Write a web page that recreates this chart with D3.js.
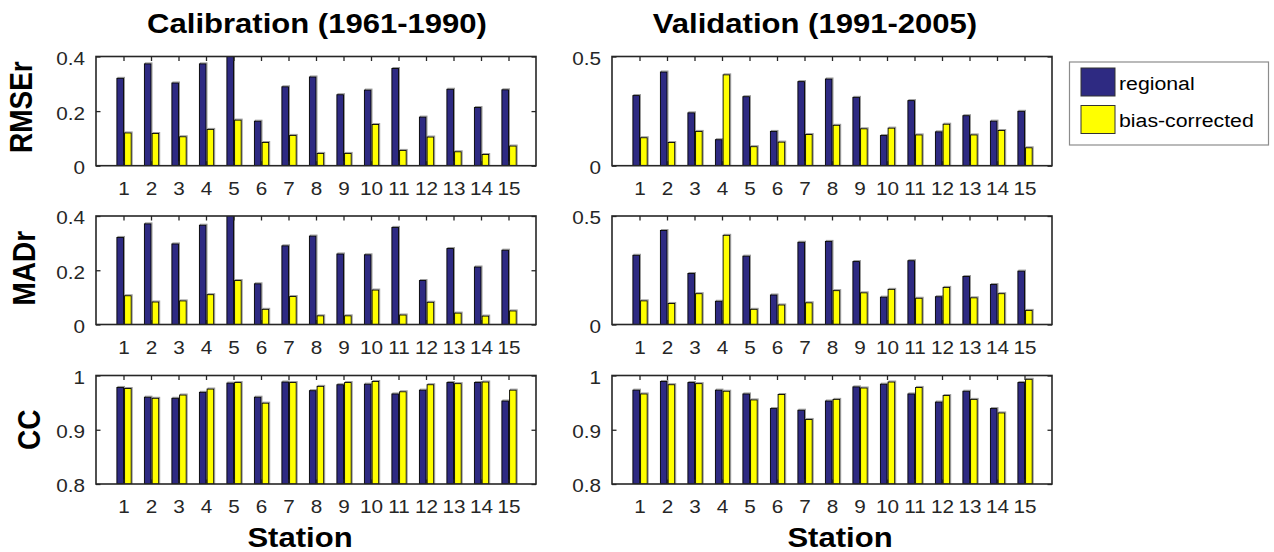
<!DOCTYPE html>
<html>
<head>
<meta charset="utf-8">
<script src="https://cdn.jsdelivr.net/npm/d3@7"></script>
<style>
  html, body { margin: 0; padding: 0; background: #fff; }
  svg { display: block; }
</style>
</head>
<body>
<svg id="chart" width="1274" height="552"></svg>
<script>
// ---------------- DATA ----------------
const stations = [1,2,3,4,5,6,7,8,9,10,11,12,13,14,15];
const seriesNames = ["regional", "bias-corrected"];
const columnTitles = ["Calibration (1961-1990)", "Validation (1991-2005)"];
const rowLabels = ["RMSEr", "MADr", "CC"];

// RMSEr
const calRMSEreg = [0.320,0.373,0.303,0.373,0.405,0.163,0.289,0.325,0.260,0.277,0.356,0.178,0.280,0.213,0.278];
const calRMSEbc  = [0.120,0.118,0.106,0.133,0.167,0.085,0.111,0.045,0.045,0.151,0.056,0.105,0.051,0.041,0.072];
const valRMSEreg = [0.321,0.429,0.242,0.119,0.316,0.157,0.385,0.397,0.313,0.138,0.298,0.155,0.229,0.204,0.249];
const valRMSEbc  = [0.128,0.106,0.157,0.416,0.087,0.108,0.143,0.185,0.169,0.172,0.141,0.190,0.141,0.161,0.082];
// MADr
const calMADreg = [0.321,0.371,0.297,0.366,0.405,0.150,0.290,0.326,0.260,0.257,0.358,0.162,0.280,0.212,0.274];
const calMADbc  = [0.106,0.083,0.087,0.110,0.162,0.056,0.103,0.032,0.032,0.127,0.035,0.082,0.042,0.031,0.050];
const valMADreg = [0.319,0.433,0.235,0.107,0.315,0.136,0.379,0.383,0.290,0.126,0.294,0.128,0.221,0.184,0.246];
const valMADbc  = [0.109,0.097,0.142,0.411,0.070,0.090,0.100,0.156,0.146,0.162,0.121,0.171,0.123,0.142,0.065];
// CC
const calCCreg = [0.978,0.960,0.958,0.969,0.986,0.960,0.988,0.972,0.983,0.984,0.966,0.973,0.987,0.987,0.953];
const calCCbc  = [0.976,0.958,0.964,0.975,0.987,0.949,0.987,0.980,0.987,0.989,0.970,0.983,0.985,0.988,0.973];
const valCCreg = [0.973,0.989,0.987,0.973,0.966,0.939,0.936,0.953,0.979,0.984,0.966,0.951,0.971,0.939,0.987];
const valCCbc  = [0.966,0.983,0.985,0.971,0.955,0.965,0.919,0.956,0.977,0.988,0.978,0.963,0.956,0.931,0.993];

// axis ranges and tick labels
const rmseCalDomain = [0, 0.4], rmseCalTicks = [0, 0.2, 0.4];
const rmseValDomain = [0, 0.5], rmseValTicks = [0, 0.5];
const madCalDomain  = [0, 0.4], madCalTicks  = [0, 0.2, 0.4];
const madValDomain  = [0, 0.5], madValTicks  = [0, 0.5];
const ccDomain      = [0.8, 1], ccTicks      = [0.8, 0.9, 1];

// ---------------- LAYOUT ----------------
const colX = [[96, 536], [612, 1052]];
const rowY = [[56.5, 165.7], [216, 324.5], [375.5, 484]];
const SX = 1.15; // horizontal stretch of the original rendering
const colors = ["#2e2a82", "#ffff00"];
const axisColor = "#262626";
const fontFam = "'Liberation Sans', Arial, Helvetica, sans-serif";

const panels = [
  {r:0, c:0, reg:calRMSEreg, bc:calRMSEbc, domain:rmseCalDomain, ticks:rmseCalTicks},
  {r:0, c:1, reg:valRMSEreg, bc:valRMSEbc, domain:rmseValDomain, ticks:rmseValTicks},
  {r:1, c:0, reg:calMADreg,  bc:calMADbc,  domain:madCalDomain,  ticks:madCalTicks},
  {r:1, c:1, reg:valMADreg,  bc:valMADbc,  domain:madValDomain,  ticks:madValTicks},
  {r:2, c:0, reg:calCCreg,   bc:calCCbc,   domain:ccDomain,      ticks:ccTicks},
  {r:2, c:1, reg:valCCreg,   bc:valCCbc,   domain:ccDomain,      ticks:ccTicks},
];

const svg = d3.select("#chart").style("font-family", fontFam);
const defs = svg.append("defs");

function stext(parent, x, y, str, size, opts = {}) {
  const t = parent.append("text")
    .attr("transform", opts.rotate
      ? `translate(${x},${y}) rotate(-90) scale(1,${SX})`
      : `translate(${x},${y}) scale(${opts.sx || SX},1)`)
    .attr("text-anchor", opts.anchor || "middle")
    .attr("font-size", size)
    .attr("font-weight", opts.bold ? "bold" : "normal")
    .attr("fill", opts.fill || axisColor)
    .text(str);
  if (opts.baseline) t.attr("dominant-baseline", opts.baseline);
  return t;
}

panels.forEach((p, i) => {
  const [x0, x1] = colX[p.c];
  const [y0, y1] = rowY[p.r];
  const x = d3.scaleLinear().domain([0, 16]).range([x0, x1]);
  const y = d3.scaleLinear().domain(p.domain).range([y1, y0]);
  const g = svg.append("g");

  defs.append("clipPath").attr("id", "clip" + i)
    .append("rect").attr("x", x0).attr("y", y0).attr("width", x1 - x0).attr("height", y1 - y0);

  const barW = 0.24;
  const offs = [-0.12, 0.16];
  const bars = g.append("g").attr("clip-path", `url(#clip${i})`);
  [p.reg, p.bc].forEach((vals, s) => {
    // faint grey halo like the original rendering
    bars.selectAll(null).data(stations).enter().append("rect")
      .attr("x", d => x(d + offs[s] - barW / 2) + 1)
      .attr("width", d => x(d + offs[s] + barW / 2) - x(d + offs[s] - barW / 2))
      .attr("y", (d, k) => y(vals[k]) - 1)
      .attr("height", (d, k) => y(p.domain[0]) - y(vals[k]) + 1)
      .attr("fill", "none")
      .attr("stroke", "#9a9a9a")
      .attr("stroke-width", 1);
    bars.selectAll(null).data(stations).enter().append("rect")
      .attr("x", d => x(d + offs[s] - barW / 2))
      .attr("width", d => x(d + offs[s] + barW / 2) - x(d + offs[s] - barW / 2))
      .attr("y", (d, k) => y(vals[k]))
      .attr("height", (d, k) => y(p.domain[0]) - y(vals[k]))
      .attr("fill", colors[s])
      .attr("stroke", "#000")
      .attr("stroke-width", 0.9);
  });

  // x axis (bottom) with inside ticks, plus mirrored ticks on top
  const xAxis = d3.axisBottom(x).tickValues(stations).tickSize(0).tickPadding(0);
  const xa = g.append("g").attr("transform", `translate(0,${y1})`).call(xAxis);
  xa.select(".domain").remove();
  xa.selectAll("text").remove();
  xa.selectAll(".tick").each(function(d) {
    const tk = d3.select(this);
    tk.append("line").attr("y1", 0).attr("y2", -4.5).attr("stroke", axisColor).attr("stroke-width", 1.3);
    tk.append("line").attr("y1", y0 - y1).attr("y2", y0 - y1 + 4.5).attr("stroke", axisColor).attr("stroke-width", 1.3);
    stext(tk, 0, 29, String(d), 18);
  });

  // y axis ticks (left & right inside)
  const yAxis = d3.axisLeft(y).tickValues(p.ticks).tickSize(0);
  const ya = g.append("g").attr("transform", `translate(${x0},0)`).call(yAxis);
  ya.select(".domain").remove();
  ya.selectAll("text").remove();
  ya.selectAll(".tick").each(function(d) {
    const tk = d3.select(this);
    tk.append("line").attr("x1", 0).attr("x2", 4.5).attr("stroke", axisColor).attr("stroke-width", 1.3);
    tk.append("line").attr("x1", x1 - x0).attr("x2", x1 - x0 - 4.5).attr("stroke", axisColor).attr("stroke-width", 1.3);
    stext(tk, -11, 1.5, String(d), 18, {anchor: "end", baseline: "central"});
  });

  // box
  g.append("rect").attr("x", x0).attr("y", y0).attr("width", x1 - x0).attr("height", y1 - y0)
    .attr("fill", "none").attr("stroke", axisColor).attr("stroke-width", 1.6);
});

// column titles
const titleX = [317, 815];
columnTitles.forEach((t, c) => stext(svg, titleX[c], 33, t, 27, {bold: true, fill: "#000"}));

// x labels
const xlabX = [300, 840];
xlabX.forEach(cx => stext(svg, cx, 547, "Station", 27, {bold: true, fill: "#000"}));

// row labels (rotated)
const ylabX = [32, 35, 40];
const ylabDY = [-4, -2, 0];
rowLabels.forEach((t, r) => {
  const cy = (rowY[r][0] + rowY[r][1]) / 2 + ylabDY[r];
  stext(svg, ylabX[r], cy, t, 28, {bold: true, fill: "#000", rotate: true});
});

// legend
const lg = svg.append("g");
lg.append("rect").attr("x", 1069.5).attr("y", 62).attr("width", 199).attr("height", 83)
  .attr("fill", "#fff").attr("stroke", "#8c8c8c").attr("stroke-width", 1.2);
const legY = [68, 105.5];
seriesNames.forEach((n, s) => {
  lg.append("rect").attr("x", 1081).attr("y", legY[s]).attr("width", 34).attr("height", 28)
    .attr("fill", colors[s]).attr("stroke", "#333").attr("stroke-width", 1);
  stext(lg, 1119, legY[s] + 21.5, n, 19, {anchor: "start", sx: 1.12, fill: "#000"});
});
</script>
</body>
</html>
